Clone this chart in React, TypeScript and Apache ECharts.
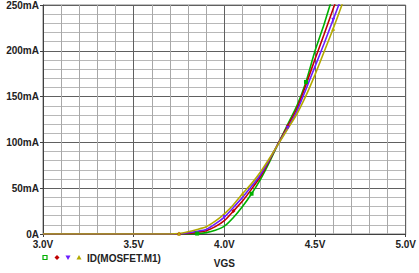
import React, { useEffect, useRef } from "react";
import * as echarts from "echarts";

const VGS = [3.0, 3.5, 3.7, 3.75, 3.8, 3.85, 3.9, 3.95, 4.0, 4.05, 4.1, 4.15, 4.2, 4.25, 4.3, 4.35, 4.4, 4.45, 4.5, 4.55, 4.6, 4.65, 4.7];
const ID_GREEN = [0, 0, 0, 0, 0, 0.5, 1.5, 4, 8.5, 18, 30, 44, 60, 79, 100, 120, 140, 166, 200, 229, 261, 293, 325];
const ID_RED = [0, 0, 0, 0, 0.5, 2, 3.6, 8, 14.5, 25, 36, 49, 63, 81, 100, 118, 137, 163, 191, 218, 246, 273, 300];
const ID_PURPLE = [0, 0, 0, 0, 1.4, 3, 5, 11, 18.5, 29, 40, 52, 65, 82, 99.5, 116, 134, 158, 183, 208, 234, 260, 286];
const ID_YELLOW = [0, 0, 0, 0.5, 2.5, 5, 8, 14, 22, 32, 44, 55, 68, 83, 99, 115, 131, 151, 174, 199, 224, 251, 278];

const X_TICKS = ["3.0V", "3.5V", "4.0V", "4.5V", "5.0V"];
const Y_TICKS = ["0A", "50mA", "100mA", "150mA", "200mA", "250mA"];
const LEGEND_LABEL = "ID(MOSFET.M1)";
const X_NAME = "VGS";

const FONT = "'Liberation Sans', Arial, sans-serif";

type S = { name: string; values: number[]; color: string; symbol: string; rotate: number; marks: number[] };

const SERIES: S[] = [
  { name: "g", values: ID_GREEN, color: "#00b000", symbol: "rect", rotate: 0, marks: [5, 11, 17, 20] },
  { name: "r", values: ID_RED, color: "#c00000", symbol: "diamond", rotate: 0, marks: [3, 9, 15] },
  { name: "p", values: ID_PURPLE, color: "#6a1cff", symbol: "triangle", rotate: 180, marks: [8, 15, 20] },
  { name: LEGEND_LABEL, values: ID_YELLOW, color: "#b4aa00", symbol: "triangle", rotate: 0, marks: [3, 10, 20] },
];

export default function App() {
  const ref = useRef<HTMLDivElement>(null);
  useEffect(() => {
    if (!ref.current) return;
    const chart = echarts.init(ref.current, undefined, { renderer: "svg" });
    const legendX = [45, 57, 68, 79];
    const graphic: any[] = SERIES.map((s, i) => ({
      type: "group",
      x: legendX[i],
      y: 257.5,
      children: [
        s.symbol === "rect"
          ? { type: "rect", shape: { x: -2, y: -2, width: 4, height: 4 }, style: { fill: "#fff", stroke: s.color, lineWidth: 1.2 } }
          : s.symbol === "diamond"
          ? { type: "polygon", shape: { points: [[0, -2.5], [2.5, 0], [0, 2.5], [-2.5, 0]] }, style: { fill: s.color } }
          : s.rotate === 180
          ? { type: "polygon", shape: { points: [[-2.5, -2], [2.5, -2], [0, 2.5]] }, style: { fill: s.color } }
          : { type: "polygon", shape: { points: [[-2.5, 2], [2.5, 2], [0, -2.5]] }, style: { fill: s.color } },
      ],
    }));
    graphic.push({
      type: "text",
      x: 87,
      y: 258,
      style: { text: LEGEND_LABEL, font: `bold 10px ${FONT}`, fill: "#222", verticalAlign: "middle", align: "left" },
    });

    chart.setOption({
      animation: false,
      backgroundColor: "#fff",
      grid: { left: 43, right: 7, top: 5, bottom: 36, show: true, borderColor: "#808080", borderWidth: 1 },
      graphic,
      xAxis: {
        type: "value",
        min: 3,
        max: 5,
        interval: 0.5,
        name: X_NAME,
        nameLocation: "middle",
        nameGap: 24,
        nameTextStyle: { fontFamily: FONT, fontWeight: "bold", fontSize: 10, color: "#222" },
        axisLine: { show: true, lineStyle: { color: "#404040", width: 1 } },
        axisTick: { show: true, length: 3, lineStyle: { color: "#404040" } },
        axisLabel: {
          margin: 5,
          fontFamily: FONT,
          fontWeight: "bold",
          fontSize: 10,
          color: "#222",
          formatter: (v: number) => X_TICKS[Math.round((v - 3) / 0.5)] ?? "",
        },
        splitLine: { show: true, lineStyle: { color: "#606060", width: 1 } },
        minorTick: { show: false, splitNumber: 5 },
        minorSplitLine: { show: true, lineStyle: { color: "#a8a8a8", width: 1 } },
      },
      yAxis: {
        type: "value",
        min: 0,
        max: 250,
        interval: 50,
        axisLine: { show: true, lineStyle: { color: "#404040", width: 1 } },
        axisTick: { show: true, length: 3, lineStyle: { color: "#404040" } },
        axisLabel: {
          margin: 4,
          fontFamily: FONT,
          fontWeight: "bold",
          fontSize: 10,
          color: "#222",
          formatter: (v: number) => Y_TICKS[Math.round(v / 50)] ?? "",
        },
        splitLine: { show: true, lineStyle: { color: "#606060", width: 1 } },
        minorTick: { show: false, splitNumber: 5 },
        minorSplitLine: { show: true, lineStyle: { color: "#b8b8b8", width: 1 } },
      },
      series: SERIES.map((s) => ({
        name: s.name,
        type: "line",
        clip: true,
        symbol: s.symbol,
        symbolRotate: s.rotate,
        symbolSize: 4,
        showSymbol: true,
        smooth: 0.2,
        lineStyle: { color: s.color, width: 1.6 },
        itemStyle: { color: s.color },
        data: VGS.map((x, i) =>
          s.marks.includes(i) ? { value: [x, s.values[i]] } : { value: [x, s.values[i]], symbol: "none" }
        ),
      })),
    });
    return () => chart.dispose();
  }, []);
  return <div ref={ref} style={{ position: "fixed", left: 0, top: 0, width: 419, height: 273 }} />;
}
